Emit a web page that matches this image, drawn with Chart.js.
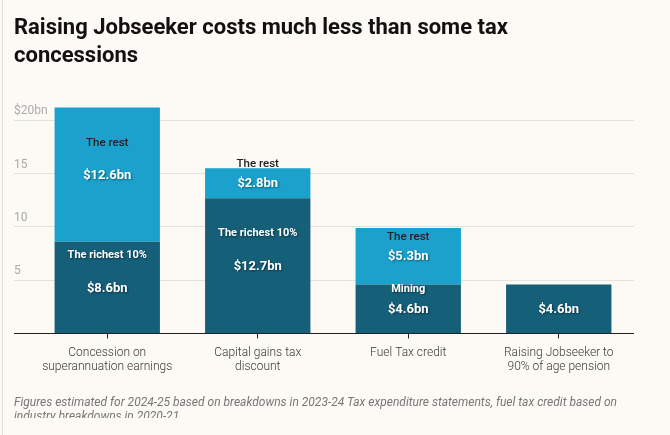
<!DOCTYPE html>
<html>
<head>
<meta charset="utf-8">
<script src="https://cdn.jsdelivr.net/npm/chart.js@4/dist/chart.umd.min.js"></script>
<style>
  html, body { margin: 0; padding: 0; }
  body { width: 670px; height: 435px; background: #fdf9f5; font-family: Roboto, sans-serif; position: relative; overflow: hidden; }
  #edge { position: absolute; left: 2px; top: 0; width: 1px; height: 435px; background: #e2dedb; }
  #title { position: absolute; left: 14px; top: 13px; width: 600px; font-size: 22px; font-weight: 700; line-height: 28px; color: #111; }
  #note { position: absolute; left: 14px; top: 395px; width: 640px; height: 23px; overflow: hidden; font-size: 12px; font-style: italic; line-height: 14px; color: #777; }
  #wrap { position: absolute; left: 0; top: 0; width: 670px; height: 435px; }
</style>
</head>
<body>
<div id="edge"></div>
<div id="wrap"><canvas id="costChart"></canvas></div>
<div id="title">Raising Jobseeker costs much less than some tax<br>concessions</div>
<div id="note">Figures estimated for 2024-25 based on breakdowns in 2023-24 Tax expenditure statements, fuel tax credit based on industry breakdowns in 2020-21</div>
<script>
const categories = [
    ["Concession on", "superannuation earnings"],
    ["Capital gains tax", "discount"],
    ["Fuel Tax credit"],
    ["Raising Jobseeker to", "90% of age pension"]
];
const lowerValues = [8.6, 12.7, 4.6, 4.6];
const upperValues = [12.6, 2.8, 5.3, null];
const lowerNames = ["The richest 10%", "The richest 10%", "Mining", ""];
const upperNames = ["The rest", "The rest", "The rest", ""];
const yTicks = [0, 5, 10, 15, 20];

const darkBlue = "#155f79";
const lightBlue = "#1aa1cc";

// writes segment names and values on the bars
const barLabels = {
    id: "barLabels",
    afterDatasetsDraw(chart) {
        const ctx = chart.ctx;
        ctx.save();
        ctx.textAlign = "center";
        ctx.textBaseline = "middle";
        chart.data.datasets.forEach((ds, di) => {
            const meta = chart.getDatasetMeta(di);
            meta.data.forEach((bar, i) => {
                const v = ds.data[i];
                if (v == null) return;
                const mid = (bar.y + bar.base) / 2;
                const h = bar.base - bar.y;
                ctx.shadowColor = "rgba(0,0,0,0.45)";
                ctx.shadowBlur = 2;
                ctx.shadowOffsetX = 1;
                ctx.shadowOffsetY = 1;
                ctx.fillStyle = "#fff";
                ctx.font = "bold 13px Roboto";
                ctx.fillText("$" + v.toFixed(1) + "bn", bar.x, mid + 1);
                const name = ds.names[i];
                if (!name) return;
                const ny = mid - (h > 70 ? 32 : 19);
                if (ds.nameColor === "#fff") {
                    ctx.font = "bold 11px Roboto";
                    ctx.fillStyle = "#fff";
                } else {
                    ctx.shadowColor = "transparent";
                    ctx.font = "500 11.5px Roboto";
                    ctx.fillStyle = ds.nameColor;
                }
                ctx.fillText(name, bar.x, ny);
            });
        });
        ctx.restore();
    }
};

new Chart(document.getElementById("costChart"), {
    type: "bar",
    data: {
        labels: categories,
        datasets: [{
            data: lowerValues,
            names: lowerNames,
            nameColor: "#fff",
            backgroundColor: darkBlue,
            barPercentage: 0.7,
            categoryPercentage: 1
        }, {
            data: upperValues,
            names: upperNames,
            nameColor: "#222",
            backgroundColor: lightBlue,
            barPercentage: 0.7,
            categoryPercentage: 1
        }]
    },
    options: {
        responsive: true,
        maintainAspectRatio: false,
        animation: false,
        layout: { padding: { top: 99, left: 14, right: 36, bottom: 0 } },
        plugins: {
            legend: { display: false },
            tooltip: { enabled: false }
        },
        scales: {
            x: {
                stacked: true,
                afterFit(scale) { scale.height = 101.5; },
                border: { display: false },
                grid: {
                    offset: false,
                    drawOnChartArea: false,
                    drawTicks: true,
                    tickLength: 5,
                    color: "#222"
                },
                ticks: {
                    padding: 8,
                    color: "#3a3a3a",
                    font: { family: "Roboto", size: 12, weight: 300, lineHeight: 1.12 }
                }
            },
            y: {
                stacked: true,
                min: 0,
                max: 22,
                afterFit(scale) { scale.width = 18; },
                afterBuildTicks(scale) {
                    scale.ticks = yTicks.map(v => ({ value: v }));
                },
                border: { display: false },
                grid: {
                    drawTicks: true,
                    tickLength: 18,
                    color: ctx => ctx.tick && ctx.tick.value === 0 ? "#222" : "#e4e2df"
                },
                ticks: {
                    mirror: true,
                    padding: -18,
                    labelOffset: -9,
                    color: "#aaa",
                    font: { family: "Roboto", size: 12 },
                    callback: v => v === 0 ? "" : (v === 20 ? "$20bn" : String(v))
                }
            }
        }
    },
    plugins: [barLabels]
});
</script>
</body>
</html>
